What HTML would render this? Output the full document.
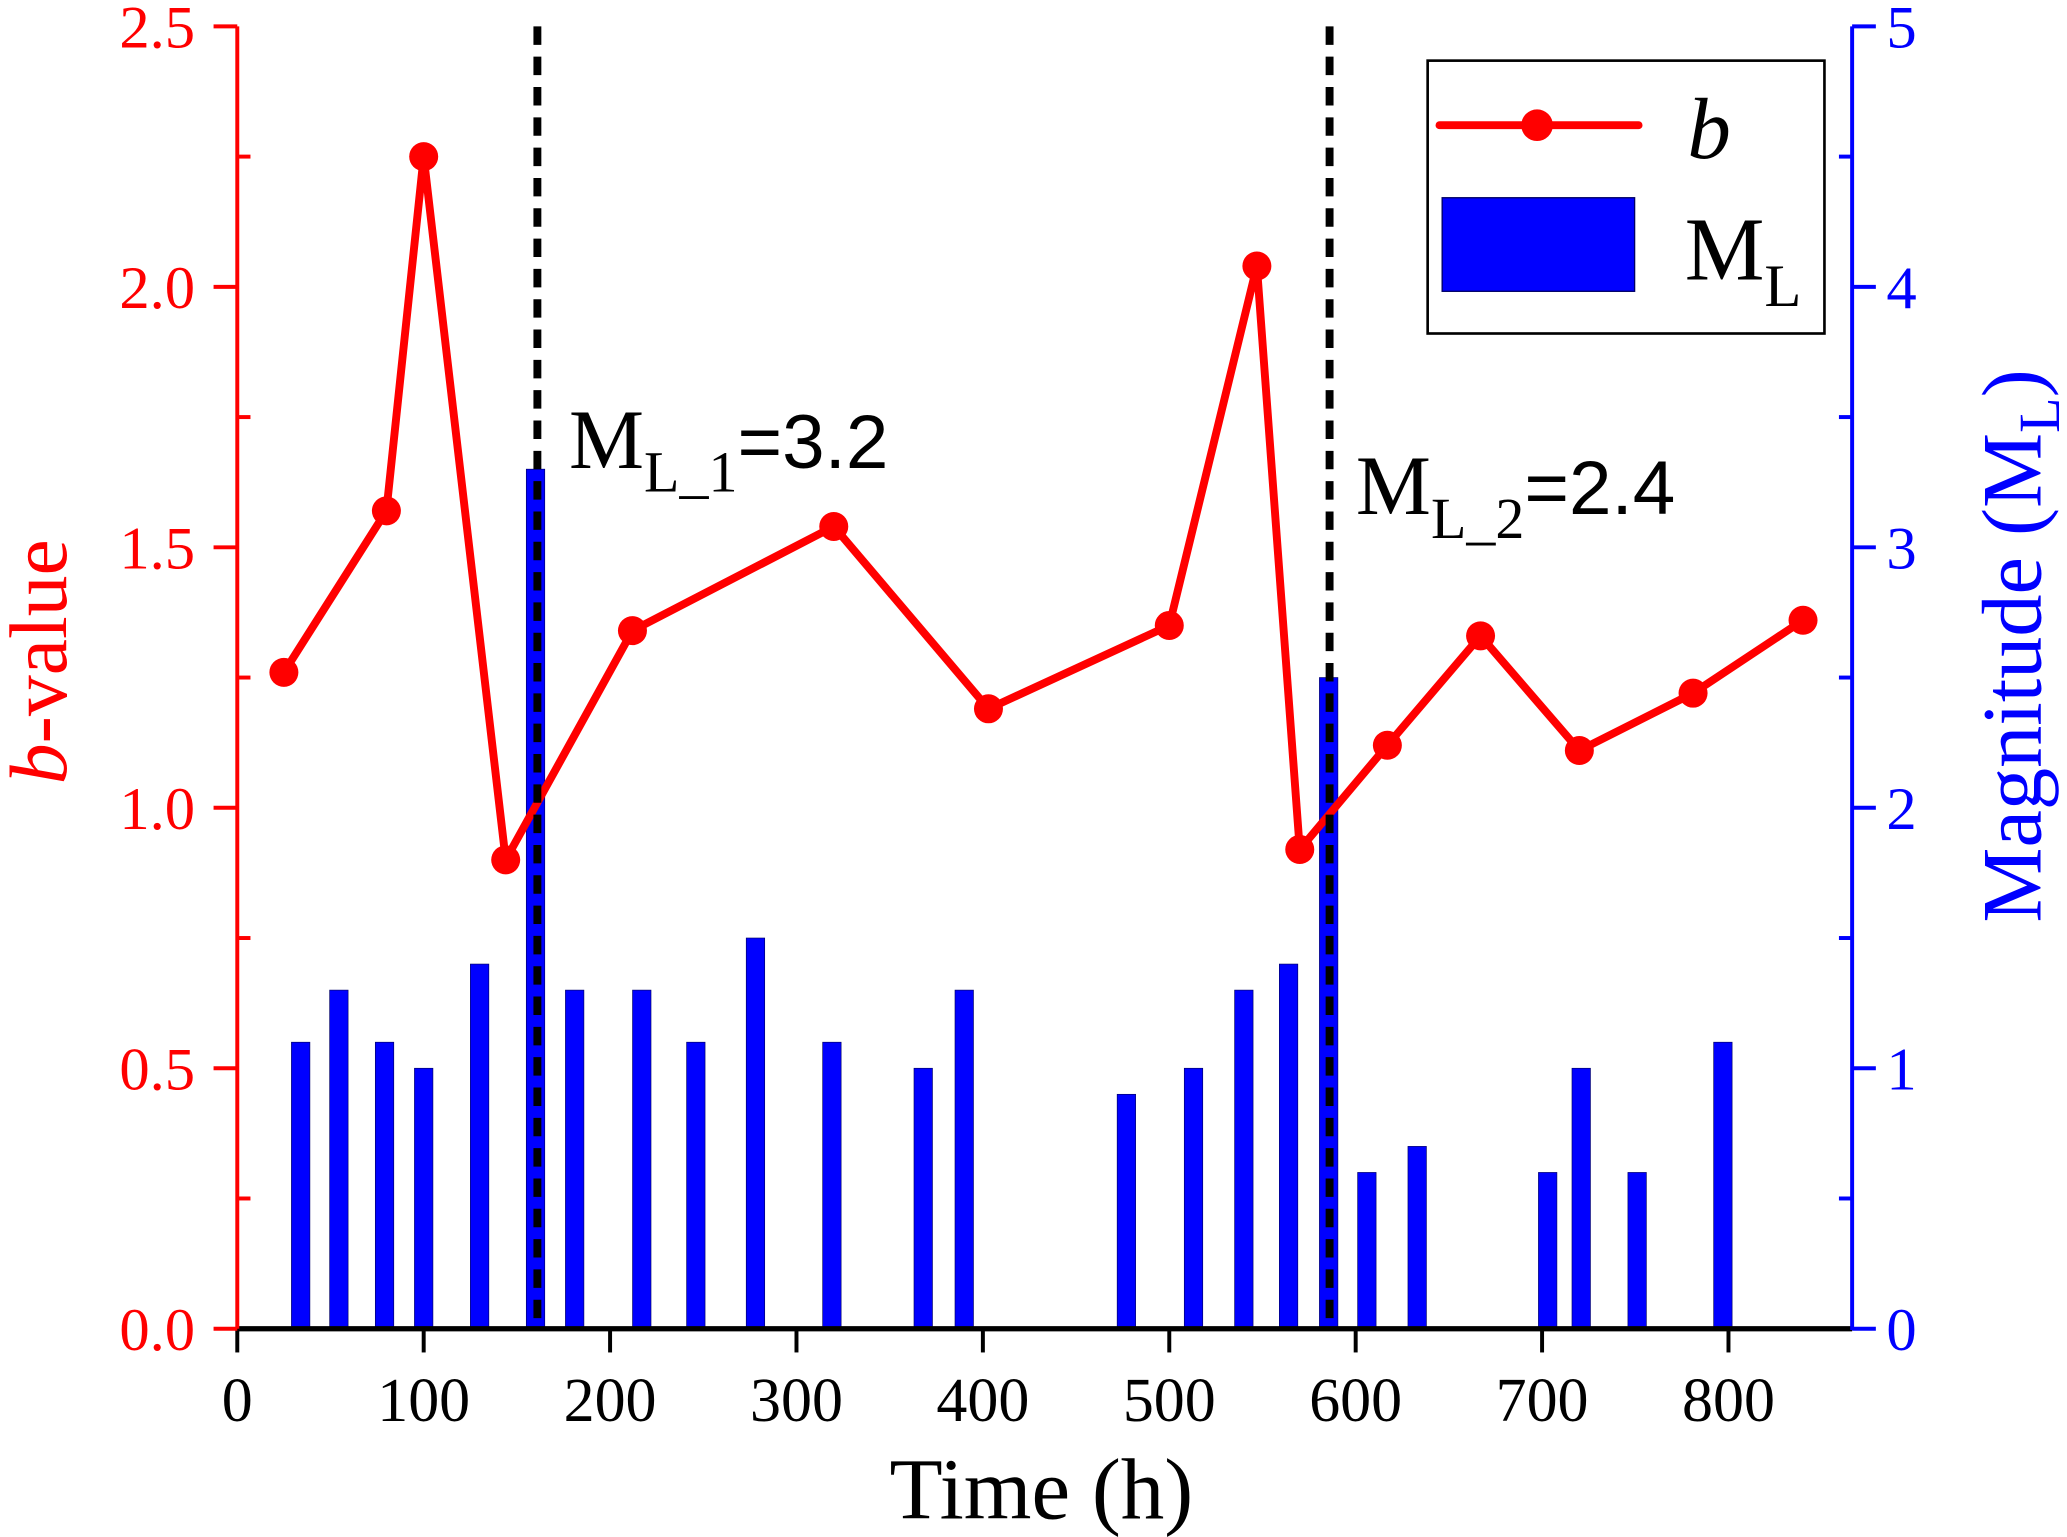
<!DOCTYPE html>
<html><head><meta charset="utf-8"><style>html,body{margin:0;padding:0;background:#fff}svg{display:block}text{font-family:"Liberation Serif",serif}</style></head>
<body>
<svg id="chart" width="2067" height="1537" viewBox="0 0 1568 1166" preserveAspectRatio="none" xmlns="http://www.w3.org/2000/svg">
<g id="bars"></g>
<g id="axes"></g>
<g id="bline"></g>
<g id="ann"></g>
</svg>
<script>
const bTimes=[25,80,100,144,212,320,403,500,547,570,617,667,720,781,840];
const bValues=[1.26,1.57,2.25,0.90,1.34,1.54,1.19,1.35,2.04,0.92,1.12,1.33,1.11,1.22,1.36];
const mTimes=[34,54.5,79,100,130,160,181,217,246,278,319,368,390,477,513,540,564,585.5,606,633,703,721,751,797];
const mValues=[1.1,1.3,1.1,1.0,1.4,3.3,1.3,1.3,1.1,1.5,1.1,1.0,1.3,0.9,1.0,1.3,1.4,2.5,0.6,0.7,0.6,1.0,0.6,1.1];
const xTicks=[0,100,200,300,400,500,600,700,800];
const yLeftTicks=["0.0","0.5","1.0","1.5","2.0","2.5"];
const yRightTicks=["0","1","2","3","4","5"];
const eventTimes=[161,586];
const eventLabels=[["L_1","=3.2"],["L_2","=2.4"]];

const NS="http://www.w3.org/2000/svg";
const X0=180,X1=1405,Y0=1008,Y1=20;
const xs=t=>X0+t*1.414;
const yl=v=>Y0-(Y0-Y1)*v/2.5;
const yr=v=>Y0-(Y0-Y1)*v/5;
function mk(tag,attrs,parent){const e=document.createElementNS(NS,tag);for(const k in attrs)e.setAttribute(k,attrs[k]);parent.appendChild(e);return e;}
const bars=document.getElementById('bars'),axes=document.getElementById('axes'),bl=document.getElementById('bline'),ann=document.getElementById('ann');

mValues.forEach((v,i)=>{const x=xs(mTimes[i]);
const r=mk('rect',{x:x-7,y:yr(v),width:14,height:Y0-yr(v),fill:'#0000ff',stroke:'#000066','stroke-width':0.5},bars);

});

eventTimes.forEach((t,i)=>{const l=mk('line',{x1:xs(t),x2:xs(t),y1:Y1,y2:Y0,stroke:'#000','stroke-width':6,'stroke-dasharray':'14 9'},ann);

});

mk('line',{x1:X0,x2:X1,y1:Y0,y2:Y0,stroke:'#000','stroke-width':4},axes);
mk('line',{x1:X0,x2:X0,y1:Y1,y2:Y0+1,stroke:'#ff0000','stroke-width':3},axes);
mk('line',{x1:X1,x2:X1,y1:Y1,y2:Y0+1,stroke:'#0000ff','stroke-width':3},axes);
xTicks.forEach(t=>{mk('line',{x1:xs(t),x2:xs(t),y1:Y0,y2:Y0+18,stroke:'#000','stroke-width':3},axes);
const tx=mk('text',{x:xs(t),y:1078,'font-size':47,'text-anchor':'middle',fill:'#000'},axes);tx.textContent=t;

});
yLeftTicks.forEach((s,i)=>{const v=i*0.5;mk('line',{x1:X0-18,x2:X0,y1:yl(v),y2:yl(v),stroke:'#ff0000','stroke-width':3},axes);
if(i<5)mk('line',{x1:X0,x2:X0+10,y1:yl(v+0.25),y2:yl(v+0.25),stroke:'#ff0000','stroke-width':3},axes);
const tx=mk('text',{x:X0-32,y:yl(v)+16,'font-size':46,'text-anchor':'end',fill:'#ff0000'},axes);tx.textContent=s;

});
yRightTicks.forEach((s,i)=>{const v=i;mk('line',{x1:X1,x2:X1+18,y1:yr(v),y2:yr(v),stroke:'#0000ff','stroke-width':3},axes);
if(i<5)mk('line',{x1:X1-10,x2:X1,y1:yr(v+0.5),y2:yr(v+0.5),stroke:'#0000ff','stroke-width':3},axes);
const tx=mk('text',{x:X1+26,y:yr(v)+16,'font-size':46,'text-anchor':'start',fill:'#0000ff'},axes);tx.textContent=s;

});

mk('polyline',{points:bTimes.map((t,i)=>xs(t)+','+yl(bValues[i])).join(' '),fill:'none',stroke:'#ff0000','stroke-width':6,'stroke-linejoin':'round'},bl);
bValues.forEach((v,i)=>{const c=mk('circle',{cx:xs(bTimes[i]),cy:yl(v),r:11,fill:'#ff0000'},bl);

});

eventTimes.forEach((t,i)=>{const tx=mk('text',{x:xs(t)+24+(i?-4:0),y:i?390:355,'font-size':64,fill:'#000'},ann);


tx.appendChild(document.createTextNode('M'));
const s=document.createElementNS(NS,'tspan');s.setAttribute('font-size',44);s.setAttribute('dy',18);s.textContent=eventLabels[i][0];tx.appendChild(s);
const s2=document.createElementNS(NS,'tspan');s2.setAttribute('dy',-18);s2.setAttribute('font-family','Liberation Sans, sans-serif');s2.setAttribute('font-size',58);s2.textContent=eventLabels[i][1];tx.appendChild(s2);});
</script>
<script>
(function(){
const NS="http://www.w3.org/2000/svg",svg=document.getElementById('chart');
function add(html){const g=document.createElementNS(NS,'g');g.innerHTML=html;svg.appendChild(g);return g;}
add(`<text x="790" y="1152" font-size="66" text-anchor="middle" fill="#000">Time (h)</text>
<text transform="translate(50,502) rotate(-90)" font-size="62" text-anchor="middle" fill="#ff0000"><tspan font-style="italic">b</tspan>-value</text>
<text transform="translate(1548,490) rotate(-90)" font-size="64" text-anchor="middle" fill="#0000ff">Magnitude (M<tspan font-size="44" dy="14">L</tspan><tspan dy="-14">)</tspan></text>
<g>
<rect x="1083" y="46" width="301" height="207" fill="#fff" stroke="#000" stroke-width="2"/>
<line x1="1092" y1="95" x2="1243" y2="95" stroke="#ff0000" stroke-width="6" stroke-linecap="round"/>
<circle cx="1166" cy="95" r="12" fill="#ff0000"/>
<text x="1280" y="120" font-size="66" font-style="italic" fill="#000">b</text>
<rect x="1094" y="150" width="146" height="71" fill="#0000ff" stroke="#000066" stroke-width="1"/>
<text x="1278" y="212" font-size="68" fill="#000">M<tspan font-size="46" dy="20">L</tspan></text>
</g>`);
})();
</script>
</body></html>
